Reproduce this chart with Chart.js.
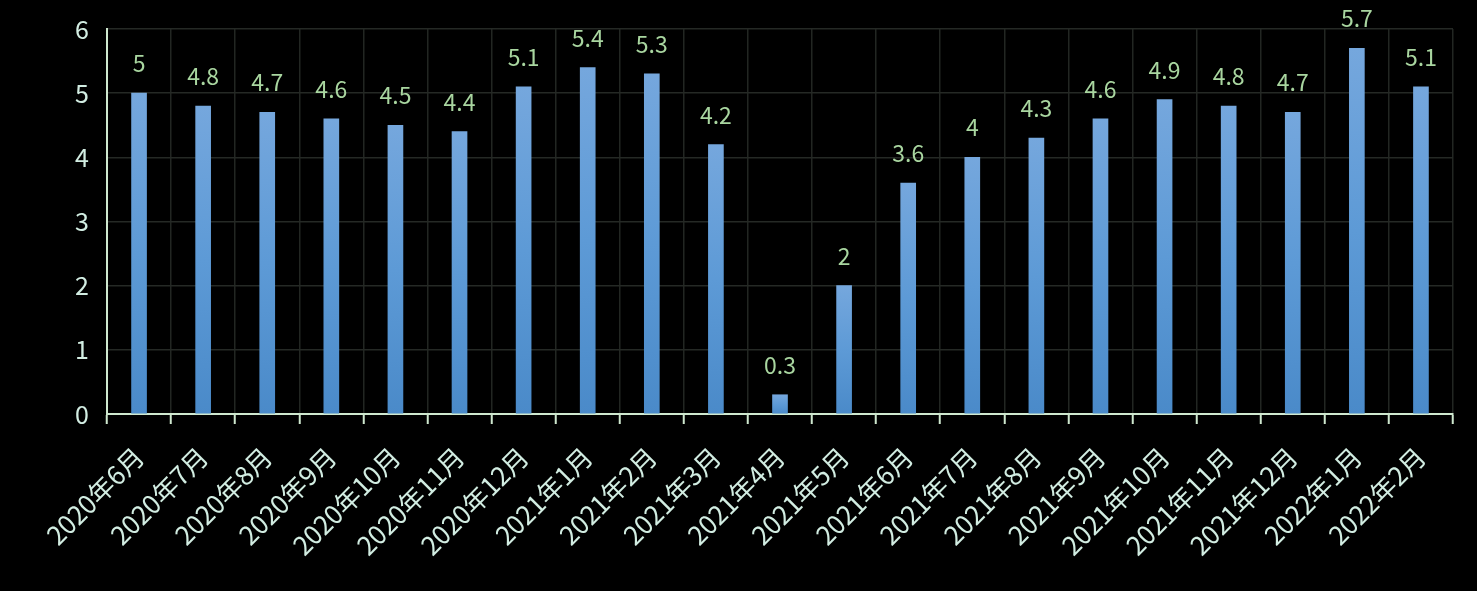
<!DOCTYPE html>
<html><head><meta charset="utf-8">
<script src="https://cdn.jsdelivr.net/npm/chart.js@4"></script>
<style>html,body{margin:0;padding:0;background:#000;}#wrap{width:1477px;height:591px;}</style>
</head><body><div id="wrap"><canvas id="c" width="1477" height="591"></canvas></div>
<script>
const categories = ["2020年6月","2020年7月","2020年8月","2020年9月","2020年10月","2020年11月","2020年12月","2021年1月","2021年2月","2021年3月","2021年4月","2021年5月","2021年6月","2021年7月","2021年8月","2021年9月","2021年10月","2021年11月","2021年12月","2022年1月","2022年2月"];
const values = [5,4.8,4.7,4.6,4.5,4.4,5.1,5.4,5.3,4.2,0.3,2,3.6,4,4.3,4.6,4.9,4.8,4.7,5.7,5.1];
const yTicks = [0,1,2,3,4,5,6];

const FONT = '"Noto Sans CJK SC","Noto Sans",sans-serif';
const labelPlugin = {
  id:'vlabels',
  afterDatasetsDraw(chart){
    const ctx = chart.ctx;
    const meta = chart.getDatasetMeta(0);
    ctx.save();
    ctx.font = '23px ' + FONT;
    ctx.fillStyle = '#a9d6a0';
    ctx.textAlign = 'center';
    ctx.textBaseline = 'alphabetic';
    meta.data.forEach((el,i)=>{
      ctx.fillText(String(values[i]), el.x, el.y - 21);
    });
    ctx.restore();
  }
};
new Chart(document.getElementById('c'),{
  type:'bar',
  data:{labels:categories,datasets:[{data:values,barThickness:15,
    backgroundColor(ctx){
      const chart = ctx.chart; const ca = chart.chartArea;
      if(!ca) return '#5b9bd5';
      const y = chart.scales.y;
      const top = y.getPixelForValue(ctx.raw), bot = y.getPixelForValue(0);
      if(!isFinite(top) || bot-top < 1) return '#5b9bd5';
      const g = chart.ctx.createLinearGradient(0,top,0,bot);
      g.addColorStop(0,'#75a7dd'); g.addColorStop(0.5,'#5d9ad6'); g.addColorStop(1,'#4a8ac9');
      return g;
    }}]},
  options:{
    responsive:false, animation:false,
    layout:{padding:{top:29,right:24,left:0,bottom:0}},
    plugins:{legend:{display:false},tooltip:{enabled:false}},
    scales:{
      x:{
        grid:{color:'#222622',lineWidth:1.5,tickColor:'#cfe8cf',tickLength:10,tickWidth:2},
        border:{color:'#cfe8cf',width:2},
        ticks:{color:'#d2ede2',font:{family:FONT,size:26},minRotation:45,maxRotation:45,padding:17},
        afterFit(ax){ax.height = 177; ax.paddingLeft = 0; ax.paddingRight = 0;}
      },
      y:{
        min:0,max:6,
        afterBuildTicks(ax){ax.ticks = yTicks.map(v=>({value:v}));},
        grid:{color:'#252925',lineWidth:1.5,drawTicks:false},
        border:{color:'#cfe8cf',width:2},
        ticks:{color:'#d2ede2',font:{family:FONT,size:25},padding:18},
        afterFit(ax){ax.width = 107; ax.paddingTop = 0; ax.paddingBottom = 0;}
      }
    }
  },
  plugins:[labelPlugin]
});
</script></body></html>
